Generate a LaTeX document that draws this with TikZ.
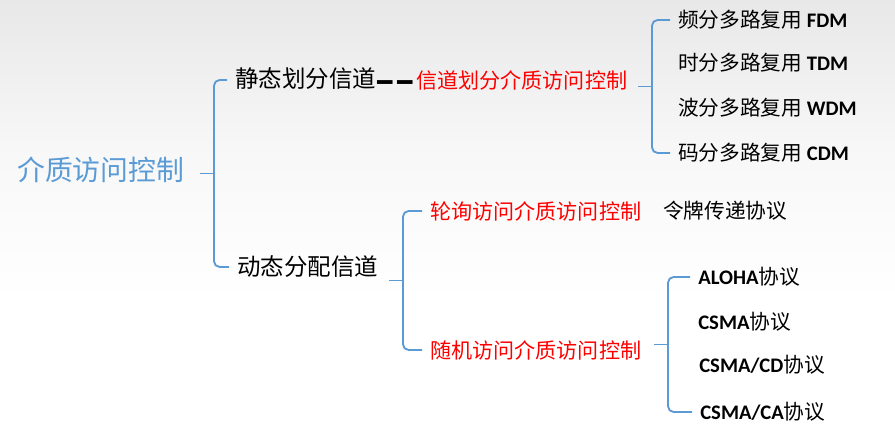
\documentclass[tikz,border=0pt]{standalone}
\usepackage{fontspec}
\usepackage{graphicx}
\setmainfont{Carlito}
\newfontfamily\cjk{Noto Sans CJK SC}
\usetikzlibrary{calc}

\definecolor{rootblue}{HTML}{5B9BD5}
\definecolor{bracketblue}{HTML}{5B9BD5}
\definecolor{hotred}{HTML}{FF0000}

\tikzset{
  txt/.style={anchor=west, inner sep=0pt, font=\cjk\fontsize{14.7}{16}\selectfont},
  bigtxt/.style={txt, font=\cjk\fontsize{16.7}{18}\selectfont},
  redtxt/.style={txt, text=hotred, font=\cjk\fontsize{15}{17}\selectfont},
  bracket/.style={draw=bracketblue, line width=1.3pt, rounded corners=4}
}

% #1 parent, #2 first child, #3 last child, #4 x of the bar
\newcommand{\bracket}[4]{%
  \coordinate (mid) at ($(#2.west)!0.5!(#3.west)$);
  \draw[bracket] ($(#2.west)+(-8,0)$) -- (#4,0 |- #2.west) -- (#4,0 |- #3.west)
    -- ($(#3.west)+(-8,0)$);
  \draw[bracket] ($(#4,0 |- mid)+(-14,0)$) -- (#4,0 |- mid);
}

\begin{document}
\begin{tikzpicture}[x=0.025cm, y=-0.025cm]
\shade[top color=black!9, bottom color=white, middle color=black!3] (0,0) rectangle (895,300);
\fill[white] (0,300) rectangle (895,438);
\useasboundingbox (0,0) rectangle (895,438);

\node[txt, text=rootblue, font=\cjk\fontsize{19.8}{22}\selectfont] (root) at (17,170) {介质访问控制};

\node[bigtxt] (static) at (235,80) {静态划分信道\raisebox{-3.2pt}{\scalebox{1}[1.8]{\bfseries\fontsize{13.6}{14}\selectfont —\kern1.8pt—}}};
\node[redtxt] (chan) at ($(static.east)+(2,0)$) {信道划分介质访问控制};
\node[bigtxt] (dyn) at (237,267) {动态分配信道};

\node[txt] (fdm) at (678,20) {频分多路复用 {\rmfamily\bfseries FDM}};
\node[txt] (tdm) at (678,63) {时分多路复用 {\rmfamily\bfseries TDM}};
\node[txt] (wdm) at (678,108) {波分多路复用 {\rmfamily\bfseries WDM}};
\node[txt] (cdm) at (678,153) {码分多路复用 {\rmfamily\bfseries CDM}};

\node[redtxt] (poll) at (430,211) {轮询访问介质访问控制};
\node[txt] (token) at (663,211) {令牌传递协议};
\node[redtxt] (rand) at (430,350) {随机访问介质访问控制};

\node[txt] (aloha) at (698,277) {{\rmfamily\bfseries ALOHA}协议};
\node[txt] (csma) at (698,322) {{\rmfamily\bfseries CSMA}协议};
\node[txt] (csmacd) at (699,365) {{\rmfamily\bfseries CSMA/CD}协议};
\node[txt] (csmaca) at (700,412) {{\rmfamily\bfseries CSMA/CA}协议};

\bracket{root}{static}{dyn}{214}
\bracket{chan}{fdm}{cdm}{652}
\bracket{dyn}{poll}{rand}{403}
\bracket{rand}{aloha}{csmaca}{668}
\end{tikzpicture}
\end{document}
